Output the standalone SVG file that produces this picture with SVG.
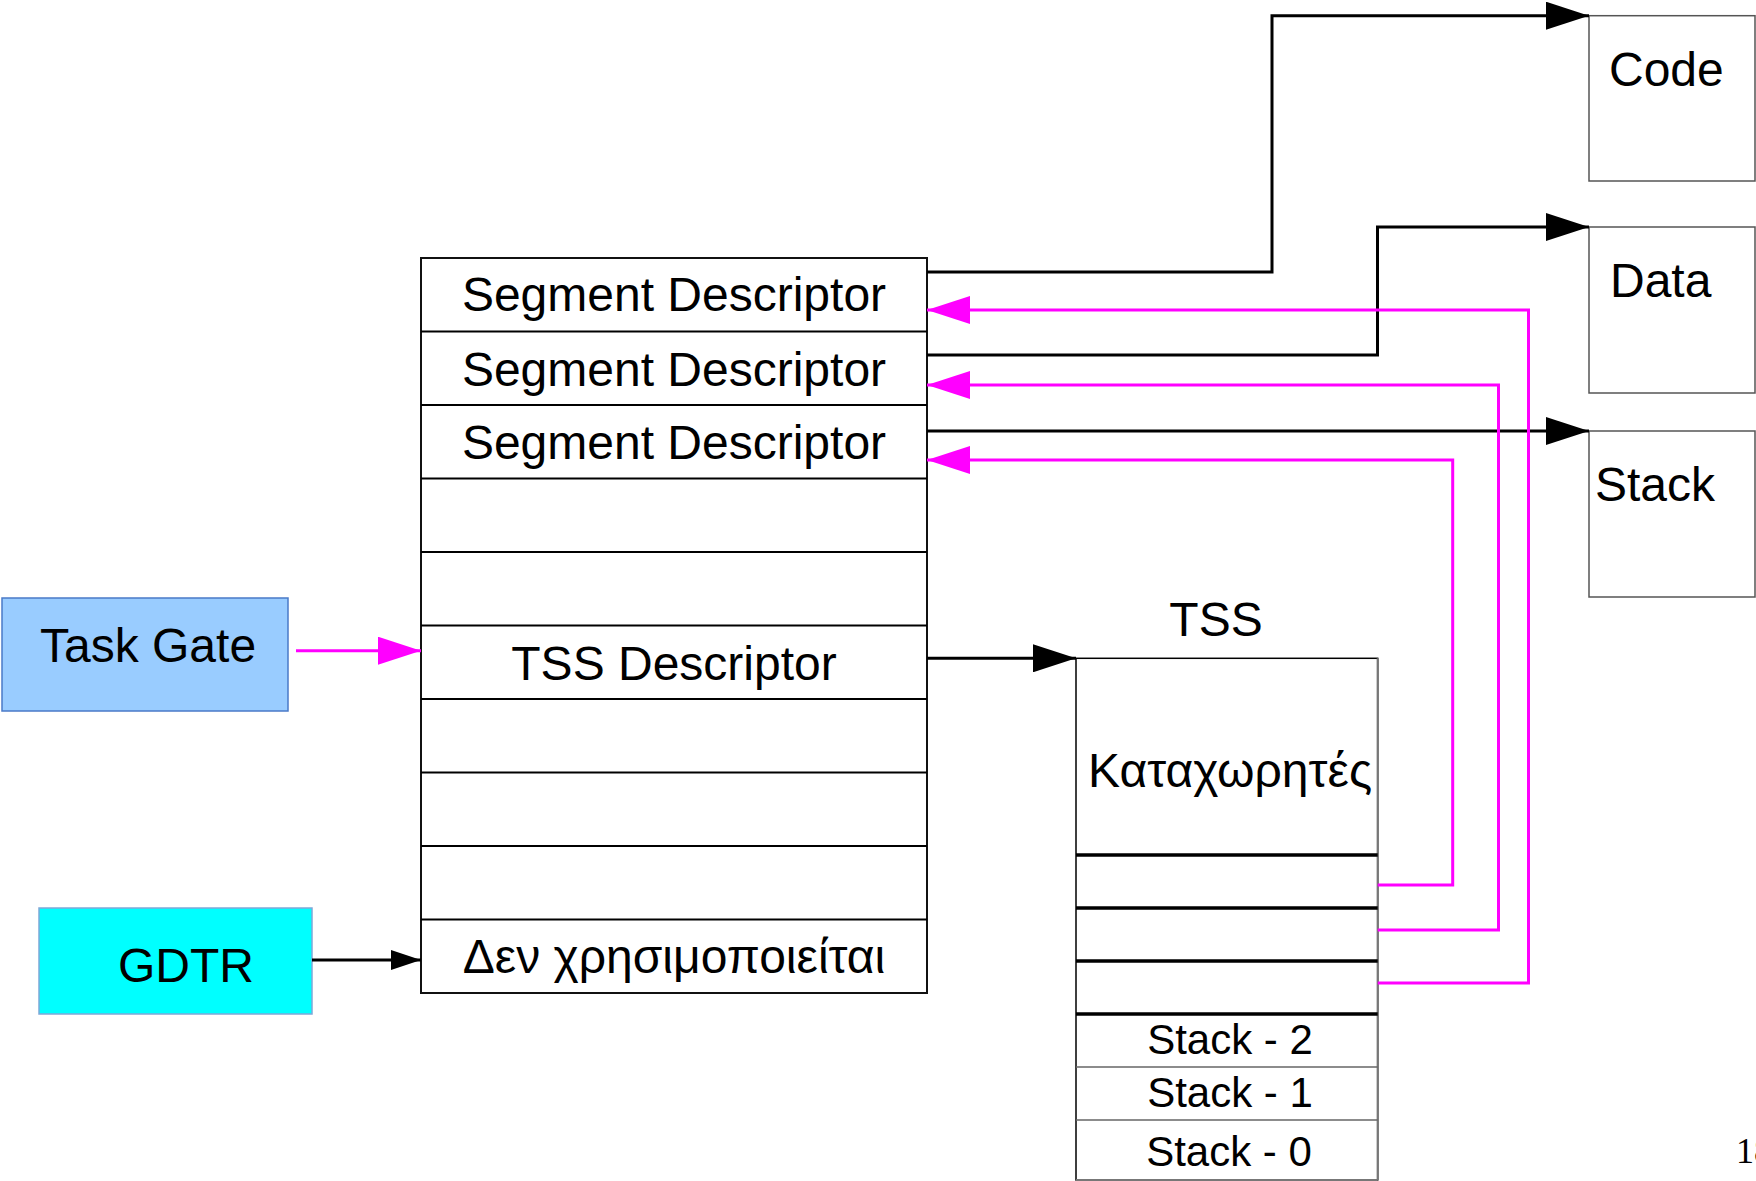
<svg xmlns="http://www.w3.org/2000/svg" width="1756" height="1181" viewBox="0 0 1756 1181">
  <style>
    .lbl { font-family: "Liberation Sans", Arial, sans-serif; font-size: 48px; fill: #000; }
    .sm { font-family: "Liberation Sans", Arial, sans-serif; font-size: 42px; fill: #000; }
    .mid { text-anchor: middle; }
    .cell { fill: #fff; stroke: #111; stroke-width: 2; }
    .seg { fill: #fff; stroke: #555; stroke-width: 1.5; }
    .rule { stroke: #000; stroke-width: 2; }
    .thick { stroke: #000; stroke-width: 3.5; }
    .thin { stroke: #666; stroke-width: 1.5; }
    .blk { fill: none; stroke: #000; stroke-width: 3; stroke-linejoin: miter; }
    .mag { fill: none; stroke: #ff00ff; stroke-width: 3; stroke-linejoin: miter; }
  </style>
  <defs>
    <marker id="arrBlk" markerUnits="userSpaceOnUse" markerWidth="43" markerHeight="28" refX="43" refY="14" orient="auto">
      <path d="M0,0 L43,14 L0,28 z" fill="#000"/>
    </marker>
    <marker id="arrBlkSm" markerUnits="userSpaceOnUse" markerWidth="30" markerHeight="20" refX="30" refY="10" orient="auto">
      <path d="M0,0 L30,10 L0,20 z" fill="#000"/>
    </marker>
    <marker id="arrMag" markerUnits="userSpaceOnUse" markerWidth="43" markerHeight="28" refX="43" refY="14" orient="auto">
      <path d="M0,0 L43,14 L0,28 z" fill="#ff00ff"/>
    </marker>
  </defs>

  <rect width="1756" height="1181" fill="#fff"/>

  <!-- Global descriptor table -->
  <g id="gdt">
    <rect class="cell" x="421" y="258" width="506" height="735"/>
    <line class="rule" x1="421" y1="331.5" x2="927" y2="331.5"/>
    <line class="rule" x1="421" y1="405" x2="927" y2="405"/>
    <line class="rule" x1="421" y1="478.5" x2="927" y2="478.5"/>
    <line class="rule" x1="421" y1="552" x2="927" y2="552"/>
    <line class="rule" x1="421" y1="625.5" x2="927" y2="625.5"/>
    <line class="rule" x1="421" y1="699" x2="927" y2="699"/>
    <line class="rule" x1="421" y1="772.5" x2="927" y2="772.5"/>
    <line class="rule" x1="421" y1="846" x2="927" y2="846"/>
    <line class="rule" x1="421" y1="919.5" x2="927" y2="919.5"/>
    <text class="lbl mid" x="674" y="311">Segment Descriptor</text>
    <text class="lbl mid" x="674" y="386">Segment Descriptor</text>
    <text class="lbl mid" x="674" y="459">Segment Descriptor</text>
    <text class="lbl mid" x="674" y="680">TSS Descriptor</text>
    <text class="lbl mid" x="674" y="973">Δεν χρησιμοποιείται</text>
  </g>

  <!-- Task gate -->
  <g id="task-gate">
    <rect x="2" y="598" width="286" height="113" fill="#99ccff" stroke="#4a7ac8" stroke-width="1.5"/>
    <text class="lbl" x="40" y="662">Task Gate</text>
  </g>

  <!-- GDTR register -->
  <g id="gdtr">
    <rect x="39" y="908" width="273" height="106" fill="#00ffff" stroke="#7fa8d8" stroke-width="1.5"/>
    <text class="lbl" x="118" y="982">GDTR</text>
  </g>

  <!-- Memory segments -->
  <g id="code">
    <rect class="seg" x="1589" y="15.7" width="166" height="165.3"/>
    <text class="lbl" x="1609" y="86">Code</text>
  </g>
  <g id="data">
    <rect class="seg" x="1589" y="227" width="166" height="166"/>
    <text class="lbl" x="1610" y="297">Data</text>
  </g>
  <g id="stack">
    <rect class="seg" x="1589" y="431" width="166" height="166"/>
    <text class="lbl" x="1595" y="501">Stack</text>
  </g>

  <!-- Task state segment -->
  <g id="tss">
    <text class="lbl mid" x="1216" y="636">TSS</text>
    <rect x="1076" y="658.3" width="301.7" height="521.7" fill="#fff" stroke="#000" stroke-width="1.5"/>
    <line x1="1377.7" y1="658.3" x2="1377.7" y2="1180" stroke="#777" stroke-width="2"/>
    <line x1="1076" y1="1180" x2="1377.7" y2="1180" stroke="#777" stroke-width="2"/>
    <text class="lbl mid" x="1230" y="787">Καταχωρητές</text>
    <line class="thick" x1="1076" y1="855" x2="1377.7" y2="855"/>
    <line class="thick" x1="1076" y1="908" x2="1377.7" y2="908"/>
    <line class="thick" x1="1076" y1="961" x2="1377.7" y2="961"/>
    <line class="thick" x1="1076" y1="1014" x2="1377.7" y2="1014"/>
    <line class="thin" x1="1076" y1="1067" x2="1377.7" y2="1067"/>
    <line class="thin" x1="1076" y1="1120" x2="1377.7" y2="1120"/>
    <text class="sm mid" x="1230" y="1054">Stack - 2</text>
    <text class="sm mid" x="1230" y="1107">Stack - 1</text>
    <text class="sm mid" x="1229" y="1166">Stack - 0</text>
  </g>

  <!-- Connectors -->
  <g id="connectors">
    <path class="blk" d="M927,272 H1272 V15.7 H1589" marker-end="url(#arrBlk)"/>
    <path class="blk" d="M927,355 H1377.5 V227 H1589" marker-end="url(#arrBlk)"/>
    <path class="blk" d="M927,431 H1589" marker-end="url(#arrBlk)"/>
    <path class="blk" d="M927,658.3 H1076" marker-end="url(#arrBlk)"/>
    <path class="blk" d="M312,960 H421" marker-end="url(#arrBlkSm)"/>
    <path class="mag" d="M296,650.7 H421" marker-end="url(#arrMag)"/>
    <path class="mag" d="M1377.7,983 H1528.5 V310 H927" marker-end="url(#arrMag)"/>
    <path class="mag" d="M1377.7,930 H1498.5 V385 H927" marker-end="url(#arrMag)"/>
    <path class="mag" d="M1377.7,885 H1452.7 V460 H927" marker-end="url(#arrMag)"/>
  </g>

  <!-- Page number -->
  <text x="1736" y="1163" font-family="'Liberation Serif', 'Times New Roman', serif" font-size="36">18</text>
</svg>
